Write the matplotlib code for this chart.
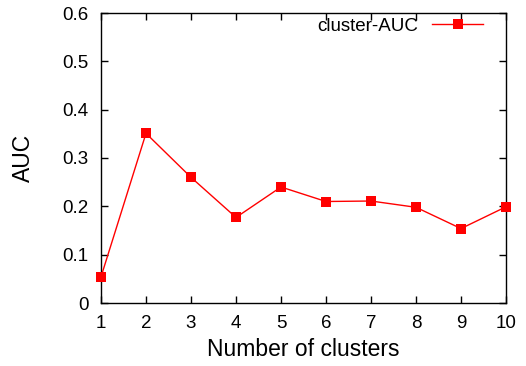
import matplotlib
matplotlib.use("Agg")
import matplotlib.pyplot as plt

clusters = [1, 2, 3, 4, 5, 6, 7, 8, 9, 10]
auc = [0.054, 0.351, 0.26, 0.177, 0.24, 0.21, 0.211, 0.198, 0.154, 0.199]
yticks = [0, 0.1, 0.2, 0.3, 0.4, 0.5, 0.6]
ytick_labels = ["0", "0.1", "0.2", "0.3", "0.4", "0.5", "0.6"]

plt.rcParams['font.family'] = ['Liberation Sans', 'DejaVu Sans']

fig = plt.figure(figsize=(5.26, 3.66), dpi=100)
ax = fig.add_axes([101/526, 1 - 303/366, (506-101)/526, (303-13)/366])

ax.plot(clusters, auc, color='#ff0000', linewidth=1.0, marker='s',
        markersize=7.5, markeredgewidth=0, label='cluster-AUC', clip_on=False, zorder=3)

ax.set_xlim(1, 10)
ax.set_ylim(0, 0.6)
ax.set_xticks(clusters)
ax.set_xticklabels([str(c) for c in clusters])
ax.set_yticks(yticks)
ax.set_yticklabels(ytick_labels)
ax.tick_params(direction='in', length=5, width=1, top=True, right=True,
               labelsize=13.5, colors='black')
ax.tick_params(axis='x', pad=9)
ax.tick_params(axis='y', pad=9)
for s in ax.spines.values():
    s.set_linewidth(1.0)

ax.set_xlabel('Number of clusters', fontsize=16.5, labelpad=4)
ax.set_ylabel('AUC', fontsize=16.5, labelpad=20)

leg = ax.legend(loc='center right', frameon=False, markerfirst=False,
                handlelength=2.7, fontsize=13.5, borderaxespad=0, borderpad=0,
                handletextpad=0.75, bbox_to_anchor=(0.943, 0.955))

fig.savefig('out.png', dpi=100)
